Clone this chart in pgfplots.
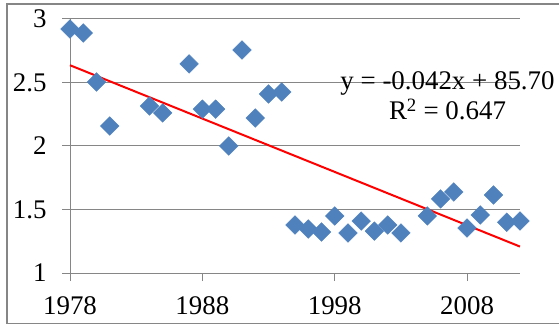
\documentclass[border=0pt]{standalone}
\usepackage{fontspec}
\setmainfont{Liberation Serif}
\usepackage{pgfplots}
\pgfplotsset{compat=1.18}
\definecolor{xlgray}{RGB}{134,134,134}
\definecolor{xlblue}{RGB}{79,129,189}
\begin{document}
\begin{tikzpicture}
\path[use as bounding box] (0,0) rectangle (559bp,326bp);
\draw[xlgray, line width=1.2bp] (559bp,322bp) -- (7bp,322bp) -- (7bp,2.5bp) -- (559bp,2.5bp);
\begin{axis}[
  at={(70bp,53bp)}, anchor=south west,
  scale only axis, width=450bp, height=254bp,
  xmin=1978, xmax=2012, ymin=1, ymax=3,
  xtick={1978,1988,1998,2008}, ytick={1,1.5,2,2.5,3},
  axis lines=left, axis line style={-, xlgray, line width=1bp},
  ymajorgrids, grid style={xlgray, line width=1bp},
  tick style={xlgray, line width=1bp},
  tick align=outside, major tick length=8bp,
  tick label style={font=\fontsize{27}{30}\selectfont},
  yticklabel style={xshift=-12bp},
  xticklabel style={yshift=-12bp},
  /pgf/number format/assume math mode=true,
  /pgf/number format/1000 sep={},
  clip=false,
]
\addplot[only marks, mark=square*, mark size=6.6bp, mark options={rotate=45, fill=xlblue, draw=xlblue}] coordinates {
(1978,2.921) (1979,2.89) (1980,2.504) (1981,2.157) (1984,2.315) (1985,2.26)
(1987,2.646) (1988,2.29) (1989,2.29) (1990,2.0) (1991,2.756) (1992,2.22)
(1993,2.41) (1994,2.425) (1995,1.378) (1996,1.346) (1997,1.323) (1998,1.449)
(1999,1.315) (2000,1.409) (2001,1.33) (2002,1.378) (2003,1.315) (2005,1.449)
(2006,1.583) (2007,1.638) (2008,1.354) (2009,1.457) (2010,1.614) (2011,1.40)
(2012,1.41)
};
\addplot[red, line width=2bp] coordinates {(1978,2.636) (2012,1.208)};
\end{axis}
\node[anchor=base, font=\fontsize{27}{30}\selectfont, inner sep=0pt] at (447.5bp,236bp) {y = -0.042x + 85.70};
\node[anchor=base, font=\fontsize{27}{30}\selectfont, inner sep=0pt] at (447.5bp,206bp) {R\textsuperscript{2} = 0.647};
\end{tikzpicture}
\end{document}
